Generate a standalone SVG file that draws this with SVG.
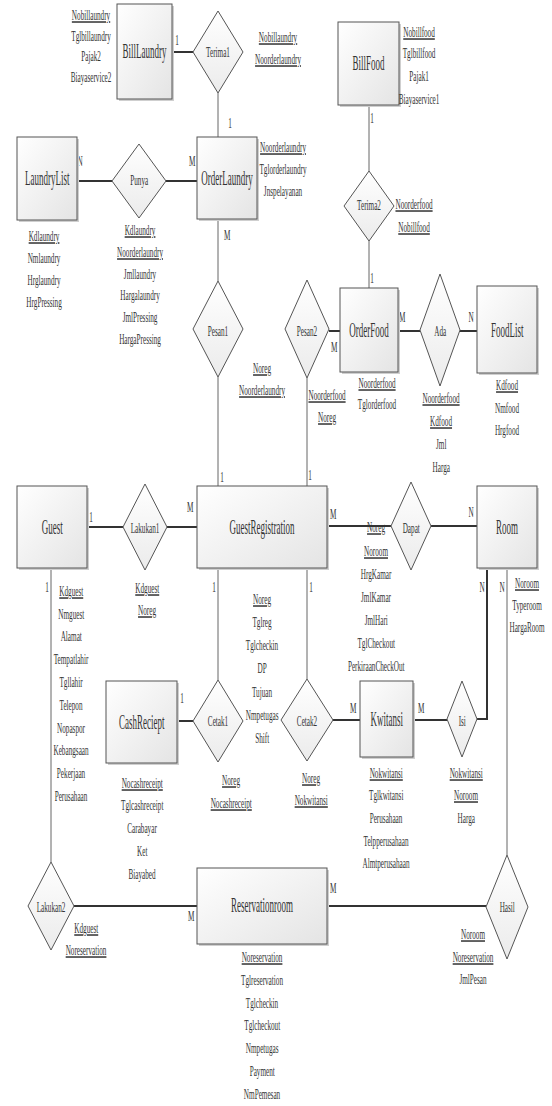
<svg xmlns="http://www.w3.org/2000/svg" width="552" height="1106" viewBox="0 0 552 1106">
<defs>
<linearGradient id="gE" x1="0" y1="0" x2="1" y2="1"><stop offset="0" stop-color="#ffffff"/><stop offset="1" stop-color="#e4e4e4"/></linearGradient>
<linearGradient id="gD" x1="0" y1="0" x2="0" y2="1"><stop offset="0" stop-color="#ffffff"/><stop offset="1" stop-color="#ebebeb"/></linearGradient>
</defs>
<style>
text{font-family:"Liberation Serif","Times New Roman",serif;font-weight:normal;fill:#333;text-anchor:middle;transform-box:fill-box;transform-origin:center;transform:scaleX(0.48)}
.e{font-size:20px;transform:scaleX(0.45)}
.a{font-size:15px}
.c{font-size:15px}
.u{text-decoration:underline}
.ent{fill:url(#gE);stroke:#555;stroke-width:1}
.sh{fill:#cfcfcf}
.rel{fill:url(#gD);stroke:#555;stroke-width:1}
.k{stroke:#333;stroke-width:2;fill:none}
.t{stroke:#666;stroke-width:1;fill:none}
</style>
<rect width="552" height="1106" fill="#fff"/>

<g id="connectors">
<line class="k" x1="172" y1="52" x2="193" y2="52"/>
<line class="t" x1="218" y1="93" x2="218" y2="137"/>
<line class="k" x1="77" y1="181" x2="112" y2="181"/>
<line class="k" x1="166" y1="181" x2="197" y2="181"/>
<line class="t" x1="218" y1="219" x2="218" y2="281"/>
<line class="t" x1="218" y1="377" x2="218" y2="486"/>
<line class="t" x1="369" y1="105" x2="369" y2="171"/>
<line class="t" x1="369" y1="241" x2="369" y2="288"/>
<line class="k" x1="329" y1="331" x2="340" y2="331"/>
<line class="t" x1="307" y1="378" x2="307" y2="486"/>
<line class="k" x1="398" y1="331" x2="420" y2="331"/>
<line class="k" x1="460" y1="331" x2="477" y2="331"/>
<line class="k" x1="87" y1="527" x2="123" y2="527"/>
<line class="k" x1="167" y1="527" x2="197" y2="527"/>
<line class="k" x1="327" y1="526" x2="391" y2="526"/>
<line class="k" x1="431" y1="526" x2="477" y2="526"/>
<line class="t" x1="51" y1="568" x2="51" y2="862"/>
<line class="t" x1="218" y1="568" x2="218" y2="680"/>
<line class="t" x1="307" y1="568" x2="307" y2="679"/>
<line class="k" x1="177" y1="721" x2="193" y2="721"/>
<line class="k" x1="333" y1="720" x2="360" y2="720"/>
<line class="k" x1="413" y1="720" x2="447" y2="720"/>
<polyline class="k" points="477,719 487,719 487,568"/>
<line class="t" x1="507" y1="568" x2="507" y2="855"/>
<line class="k" x1="74" y1="906" x2="197" y2="906"/>
<line class="k" x1="327" y1="906" x2="486" y2="906"/>
<text class="c" x="177" y="45">1</text>
<text class="c" x="230" y="128">1</text>
<text class="c" x="80" y="166">N</text>
<text class="c" x="192" y="166">M</text>
<text class="c" x="227" y="240">M</text>
<text class="c" x="222" y="482">1</text>
<text class="c" x="372" y="123">1</text>
<text class="c" x="372" y="283">1</text>
<text class="c" x="334" y="352">M</text>
<text class="c" x="310" y="480">1</text>
<text class="c" x="402" y="322">M</text>
<text class="c" x="471" y="322">N</text>
<text class="c" x="91" y="522">1</text>
<text class="c" x="190" y="512">M</text>
<text class="c" x="333" y="519">M</text>
<text class="c" x="471" y="517">N</text>
<text class="c" x="47" y="592">1</text>
<text class="c" x="214" y="592">1</text>
<text class="c" x="311" y="592">1</text>
<text class="c" x="182" y="703">1</text>
<text class="c" x="353" y="713">M</text>
<text class="c" x="421" y="713">M</text>
<text class="c" x="482" y="592">N</text>
<text class="c" x="502" y="592">N</text>
<text class="c" x="191" y="921">M</text>
<text class="c" x="333" y="893">M</text>
</g>

<g id="BillLaundry">
<rect class="sh" x="119" y="6" width="55" height="95"/>
<rect class="ent" x="117" y="4" width="55" height="95"/>
<text class="e" x="144.5" y="58">BillLaundry</text>
<text class="a u" x="91" y="20">Nobillaundry</text>
<text class="a" x="91" y="41">Tglbillaundry</text>
<text class="a" x="91" y="61">Pajak2</text>
<text class="a" x="91" y="82">Biayaservice2</text>
</g>

<g id="Terima1">
<polygon class="rel" points="218,11 243,52 218,93 193,52"/>
<text class="a" x="218" y="57">Terima1</text>
<text class="a u" x="278" y="42">Nobillaundry</text>
<text class="a u" x="278" y="64">Noorderlaundry</text>
</g>

<g id="LaundryList">
<rect class="sh" x="19" y="139" width="60" height="83"/>
<rect class="ent" x="17" y="137" width="60" height="83"/>
<text class="e" x="47" y="185">LaundryList</text>
<text class="a u" x="44" y="241">Kdlaundry</text>
<text class="a" x="44" y="263">Nmlaundry</text>
<text class="a" x="44" y="285">Hrglaundry</text>
<text class="a" x="44" y="307">HrgPressing</text>
</g>

<g id="Punya">
<polygon class="rel" points="139,144 166,181 139,218 112,181"/>
<text class="a" x="139" y="185">Punya</text>
<text class="a u" x="140" y="235">Kdlaundry</text>
<text class="a u" x="140" y="257">Noorderlaundry</text>
<text class="a" x="140" y="279">Jmllaundry</text>
<text class="a" x="140" y="300">Hargalaundry</text>
<text class="a" x="140" y="322">JmlPressing</text>
<text class="a" x="140" y="344">HargaPressing</text>
</g>

<g id="OrderLaundry">
<rect class="sh" x="199" y="139" width="60" height="82"/>
<rect class="ent" x="197" y="137" width="60" height="82"/>
<text class="e" x="227" y="185">OrderLaundry</text>
<text class="a u" x="283" y="152">Noorderlaundry</text>
<text class="a" x="283" y="174">Tglorderlaundry</text>
<text class="a" x="283" y="196">Jnspelayanan</text>
</g>

<g id="BillFood">
<rect class="sh" x="340" y="24" width="61" height="83"/>
<rect class="ent" x="338" y="22" width="61" height="83"/>
<text class="e" x="368.5" y="70">BillFood</text>
<text class="a u" x="419" y="37">Nobillfood</text>
<text class="a" x="419" y="58">Tglbillfood</text>
<text class="a" x="419" y="81">Pajak1</text>
<text class="a" x="419" y="104">Biayaservice1</text>
</g>

<g id="Terima2">
<polygon class="rel" points="369,171 394,206 369,241 344,206"/>
<text class="a" x="369" y="210">Terima2</text>
<text class="a u" x="414" y="209">Noorderfood</text>
<text class="a u" x="414" y="232">Nobillfood</text>
</g>

<g id="Pesan1">
<polygon class="rel" points="218,281 243,329 218,377 193,329"/>
<text class="a" x="218" y="336">Pesan1</text>
<text class="a u" x="262" y="373">Noreg</text>
<text class="a u" x="262" y="395">Noorderlaundry</text>
</g>

<g id="Pesan2">
<polygon class="rel" points="307,280 329,329 307,378 285,329"/>
<text class="a" x="307" y="336">Pesan2</text>
<text class="a u" x="327" y="400">Noorderfood</text>
<text class="a u" x="327" y="422">Noreg</text>
</g>

<g id="OrderFood">
<rect class="sh" x="342" y="290" width="58" height="84"/>
<rect class="ent" x="340" y="288" width="58" height="84"/>
<text class="e" x="369" y="337">OrderFood</text>
<text class="a u" x="377" y="388">Noorderfood</text>
<text class="a" x="377" y="409">Tglorderfood</text>
</g>

<g id="Ada">
<polygon class="rel" points="440,274 460,330 440,386 420,330"/>
<text class="a" x="440" y="336">Ada</text>
<text class="a u" x="441" y="403">Noorderfood</text>
<text class="a u" x="441" y="426">Kdfood</text>
<text class="a" x="441" y="449">Jml</text>
<text class="a" x="441" y="472">Harga</text>
</g>

<g id="FoodList">
<rect class="sh" x="479" y="288" width="60" height="87"/>
<rect class="ent" x="477" y="286" width="60" height="87"/>
<text class="e" x="507" y="337">FoodList</text>
<text class="a u" x="507" y="390">Kdfood</text>
<text class="a" x="507" y="413">Nmfood</text>
<text class="a" x="507" y="435">Hrgfood</text>
</g>

<g id="Guest">
<rect class="sh" x="19" y="488" width="70" height="82"/>
<rect class="ent" x="17" y="486" width="70" height="82"/>
<text class="e" x="52" y="534">Guest</text>
<text class="a u" x="71" y="596">Kdguest</text>
<text class="a" x="71" y="619">Nmguest</text>
<text class="a" x="71" y="641">Alamat</text>
<text class="a" x="71" y="664">Tempatlahir</text>
<text class="a" x="71" y="687">Tgllahir</text>
<text class="a" x="71" y="710">Telepon</text>
<text class="a" x="71" y="733">Nopaspor</text>
<text class="a" x="71" y="755">Kebangsaan</text>
<text class="a" x="71" y="778">Pekerjaan</text>
<text class="a" x="71" y="801">Perusahaan</text>
</g>

<g id="Lakukan1">
<polygon class="rel" points="145,484 167,527 145,570 123,527"/>
<text class="a" x="145" y="533">Lakukan1</text>
<text class="a u" x="147" y="593">Kdguest</text>
<text class="a u" x="147" y="615">Noreg</text>
</g>

<g id="GuestRegistration">
<rect class="sh" x="199" y="488" width="130" height="82"/>
<rect class="ent" x="197" y="486" width="130" height="82"/>
<text class="e" x="262" y="534">GuestRegistration</text>
<text class="a u" x="262" y="604">Noreg</text>
<text class="a" x="262" y="627">Tglreg</text>
<text class="a" x="262" y="650">Tglcheckin</text>
<text class="a" x="262" y="673">DP</text>
<text class="a" x="262" y="697">Tujuan</text>
<text class="a" x="262" y="720">Nmpetugas</text>
<text class="a" x="262" y="743">Shift</text>
</g>

<g id="Dapat">
<polygon class="rel" points="411,482 431,526 411,570 391,526"/>
<text class="a" x="411" y="533">Dapat</text>
<text class="a u" x="376" y="532">Noreg</text>
<text class="a u" x="376" y="556">Noroom</text>
<text class="a" x="376" y="579">HrgKamar</text>
<text class="a" x="376" y="602">JmlKamar</text>
<text class="a" x="376" y="625">JmlHari</text>
<text class="a" x="376" y="648">TglCheckout</text>
<text class="a" x="376" y="671">PerkiraanCheckOut</text>
</g>

<g id="Room">
<rect class="sh" x="479" y="488" width="60" height="82"/>
<rect class="ent" x="477" y="486" width="60" height="82"/>
<text class="e" x="507" y="534">Room</text>
<text class="a u" x="527" y="588">Noroom</text>
<text class="a" x="527" y="610">Typeroom</text>
<text class="a" x="527" y="632">HargaRoom</text>
</g>

<g id="CashReciept">
<rect class="sh" x="108" y="683" width="71" height="82"/>
<rect class="ent" x="106" y="681" width="71" height="82"/>
<text class="e" x="141.5" y="729">CashReciept</text>
<text class="a u" x="142" y="788">Nocashreceipt</text>
<text class="a" x="142" y="810">Tglcashreceipt</text>
<text class="a" x="142" y="833">Carabayar</text>
<text class="a" x="142" y="856">Ket</text>
<text class="a" x="142" y="879">Biayabed</text>
</g>

<g id="Cetak1">
<polygon class="rel" points="218,680 243,721 218,762 193,721"/>
<text class="a" x="218" y="726">Cetak1</text>
<text class="a u" x="231" y="785">Noreg</text>
<text class="a u" x="231" y="808">Nocashreceipt</text>
</g>

<g id="Cetak2">
<polygon class="rel" points="307,679 333,720 307,761 281,720"/>
<text class="a" x="307" y="726">Cetak2</text>
<text class="a u" x="311" y="783">Noreg</text>
<text class="a u" x="311" y="805">Nokwitansi</text>
</g>

<g id="Kwitansi">
<rect class="sh" x="362" y="683" width="53" height="76"/>
<rect class="ent" x="360" y="681" width="53" height="76"/>
<text class="e" x="386.5" y="726">Kwitansi</text>
<text class="a u" x="386" y="778">Nokwitansi</text>
<text class="a" x="386" y="800">Tglkwitansi</text>
<text class="a" x="386" y="823">Perusahaan</text>
<text class="a" x="386" y="846">Telpperusahaan</text>
<text class="a" x="386" y="868">Almtperusahaan</text>
</g>

<g id="Isi">
<polygon class="rel" points="462,681 477,719 462,757 447,719"/>
<text class="a" x="462" y="726">Isi</text>
<text class="a u" x="466" y="778">Nokwitansi</text>
<text class="a u" x="466" y="800">Noroom</text>
<text class="a" x="466" y="823">Harga</text>
</g>

<g id="Lakukan2">
<polygon class="rel" points="51,862 74,906 51,950 28,906"/>
<text class="a" x="51" y="912">Lakukan2</text>
<text class="a u" x="86" y="933">Kdguest</text>
<text class="a u" x="86" y="955">Noreservation</text>
</g>

<g id="Reservationroom">
<rect class="sh" x="199" y="870" width="130" height="76"/>
<rect class="ent" x="197" y="868" width="130" height="76"/>
<text class="e" x="262" y="912">Reservationroom</text>
<text class="a u" x="262" y="962">Noreservation</text>
<text class="a" x="262" y="985">Tglreservation</text>
<text class="a" x="262" y="1008">Tglcheckin</text>
<text class="a" x="262" y="1030">Tglcheckout</text>
<text class="a" x="262" y="1053">Nmpetugas</text>
<text class="a" x="262" y="1076">Payment</text>
<text class="a" x="262" y="1099">NmPemesan</text>
</g>

<g id="Hasil">
<polygon class="rel" points="507,855 528,907 507,959 486,907"/>
<text class="a" x="507" y="912">Hasil</text>
<text class="a u" x="473" y="939">Noroom</text>
<text class="a u" x="473" y="962">Noreservation</text>
<text class="a" x="473" y="984">JmlPesan</text>
</g>
</svg>
